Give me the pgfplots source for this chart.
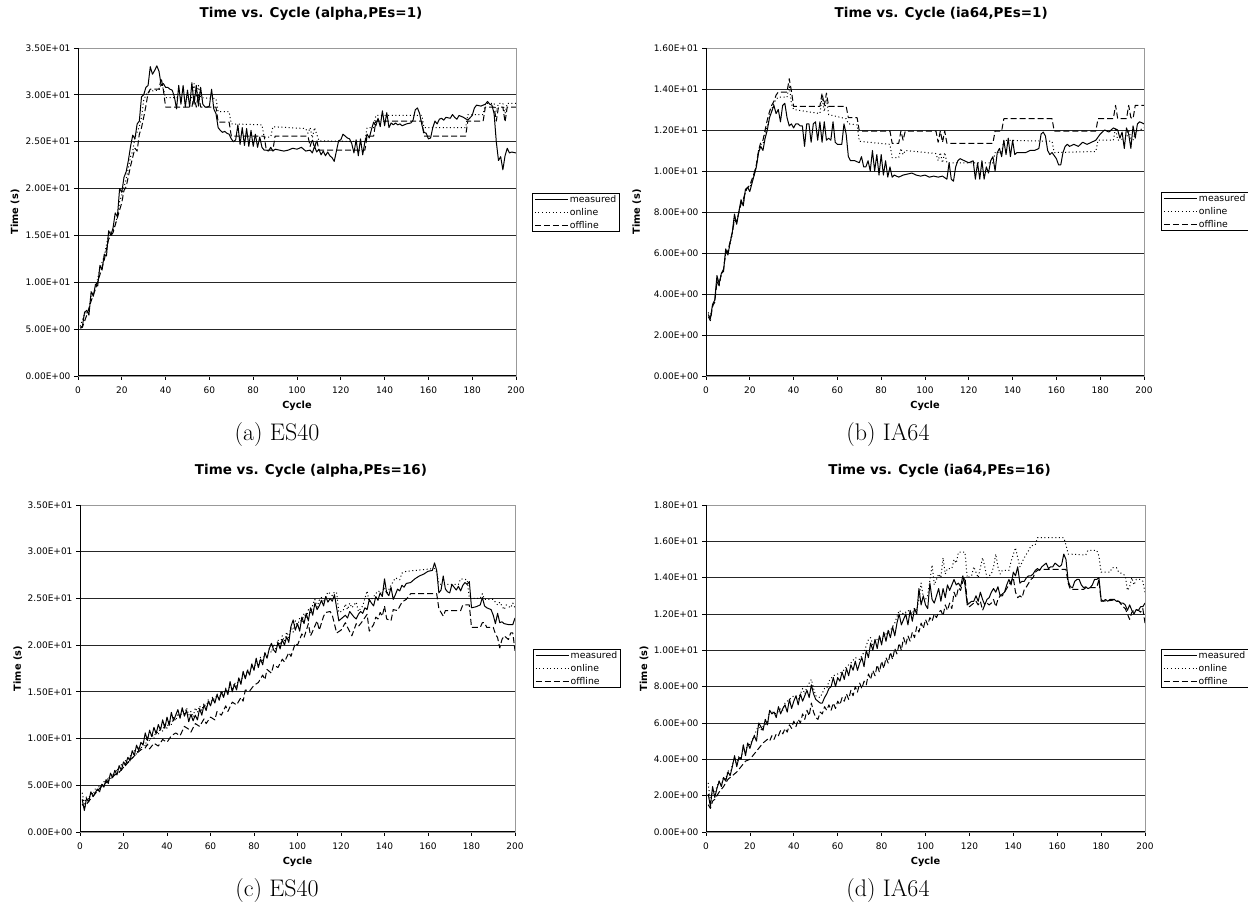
\documentclass[border=0pt]{standalone}
\usepackage{fontspec}
\usepackage{pgfplots}
\pgfplotsset{compat=1.18}
\newfontfamily\chartfont{DejaVu Sans}
\pgfplotsset{
  excelchart/.style={
    scale only axis,
    xmin=0, xmax=200,
    xtick={0,20,...,200},
    xticklabels={0,20,40,60,80,100,120,140,160,180,200},
    tick align=outside,
    xtick pos=bottom, ytick pos=left,
    major tick length=4pt,
    tick style={black, line width=0.8pt},
    ymajorgrids,
    major grid style={black!85, line width=0.9pt},
    axis line style={draw=gray!80, line width=0.8pt},
    ticklabel style={font=\chartfont\fontsize{9}{10}\selectfont},
    xticklabel style={yshift=-3pt},
    label style={font=\chartfont\bfseries\fontsize{9.8}{11}\selectfont},
    title style={font=\chartfont\bfseries\fontsize{13.5}{15}\selectfont, anchor=center},
    xlabel={Cycle},
    ylabel={Time (s)},
    xlabel style={at={(axis description cs:0.5,-0.0915)}, anchor=center},
    legend style={draw=black, line width=0.8pt, fill=white,
      font=\chartfont\fontsize{9.3}{10}\selectfont, anchor=north west,
      inner xsep=2pt, inner ysep=0.5pt, row sep=1.3pt,
      nodes={inner sep=1.5pt}},
    legend cell align=left,
    legend image code/.code={\draw[#1] (0pt,0pt) -- (33pt,0pt);},
    every axis plot/.append style={line width=1pt, black, line join=round},
    after end axis/.code={
      \draw[gray!80, line width=0.8pt] (rel axis cs:0,1) -- (rel axis cs:1,1) -- (rel axis cs:1,0);
      \draw[black, line width=1pt] (rel axis cs:0,1) -- (rel axis cs:0,0) -- (rel axis cs:1,0);
    },
    /pgf/number format/assume math mode=true,
  },
  meas/.style={solid},
  onl/.style={dash pattern=on 1pt off 2.6pt},
  offl/.style={dash pattern=on 6pt off 3pt},
}
\begin{document}
\begin{tikzpicture}[x=1pt,y=1pt]
\useasboundingbox (0,0) rectangle (1248,909);

% ---------------- (a) ----------------
\begin{axis}[excelchart, at={(78pt,533pt)}, anchor=south west,
  width=438pt, height=328pt, ymin=0, ymax=35,
  ytick={0,5,...,35},
  yticklabels={0.00E+00,5.00E+00,1.00E+01,1.50E+01,2.00E+01,2.50E+01,3.00E+01,3.50E+01},
  title={Time vs. Cycle (alpha,PEs=1)},
  title style={at={(axis description cs:0.532,1)}, yshift=28pt},
  ylabel style={at={(axis description cs:-0.144,0.5)}, anchor=center},
  legend style={at={(axis description cs:1.0365,0.558)}}]
\addplot[meas] coordinates {
(1,5.2)(2,5.3)(3,6.8)(4,7.0)(5,6.5)(6,9.0)(7,8.5)(8,9.8)(9,9.6)(10,11.8)(11,11.3)(12,13.0)(13,12.8)(14,15.5)(15,15.0)(16,15.8)(17,17.4)(18,17.0)(19,20.0)(20,19.6)(21,21.2)(22,21.8)(23,23.0)(24,24.5)(25,25.7)(26,25.3)(27,26.9)(28,27.2)(29,29.8)(30,30.0)(31,30.8)(32,31.0)(33,33.0)(34,32.2)(35,32.6)(36,33.1)(37,32.5)(38,31.0)(39,31.2)(40,30.8)(41,30.8)(42,30.6)(43,30.5)(44,29.8)(45,28.5)(46,31.0)(47,29.0)(48,31.0)(49,28.7)(50,30.5)(51,28.7)(52,31.3)(53,29.0)(54,31.0)(55,28.8)(56,30.8)(57,29.0)(58,28.7)(59,28.7)(60,28.8)(61,30.6)(62,28.5)(63,28.0)(64,26.5)(65,26.2)(66,26.0)(67,26.1)(68,25.9)(69,25.8)(70,25.3)(71,25.0)(72,25.2)(73,26.8)(74,24.7)(75,26.5)(76,24.6)(77,26.4)(78,24.5)(79,26.2)(80,24.5)(81,25.8)(82,24.4)(83,25.5)(84,24.4)(85,24.1)(86,24.1)(87,24.0)(88,24.4)(89,24.0)(90,24.2)(92,24.1)(94,24.0)(96,24.1)(98,24.3)(100,24.2)(102,24.4)(104,24.0)(106,24.1)(107,23.8)(108,24.5)(109,23.9)(110,24.2)(111,23.6)(112,24.0)(113,23.5)(114,23.9)(115,23.5)(116,23.3)(117,22.9)(118,24.0)(119,25.1)(120,25.2)(121,25.8)(122,25.6)(123,25.4)(124,25.3)(125,24.8)(126,23.8)(127,25.2)(128,23.5)(129,25.3)(130,23.6)(131,25.0)(132,25.8)(133,25.4)(134,26.3)(135,27.1)(136,26.7)(137,27.5)(138,26.6)(139,28.3)(140,26.7)(141,28.1)(142,26.5)(143,27.0)(144,26.8)(145,27.0)(146,26.8)(147,26.9)(148,26.7)(150,26.9)(152,27.0)(153,27.3)(154,28.4)(155,28.6)(156,28.0)(157,26.8)(158,26.0)(159,25.9)(160,25.3)(161,25.4)(162,26.5)(163,27.2)(164,26.9)(165,27.4)(166,27.5)(167,27.3)(168,27.6)(170,27.5)(171,27.9)(172,27.6)(173,27.4)(174,27.8)(176,27.6)(178,27.3)(180,27.8)(181,28.6)(182,28.9)(184,28.8)(186,29.0)(187,29.3)(188,29.0)(189,28.9)(190,28.0)(191,25.0)(192,23.0)(193,23.4)(194,22.0)(195,23.5)(196,24.3)(197,23.8)(198,23.9)(200,23.8)};
\addlegendentry{measured}
\addplot[onl] coordinates {
(1,5.3)(3,6.6)(5,7.0)(6,8.6)(8,9.3)(10,11.5)(12,12.8)(14,15.2)(16,15.5)(18,17.0)(19,18.6)(20,19.3)(22,21.0)(24,23.4)(25,24.0)(26,25.5)(28,26.6)(29,27.6)(30,29.4)(31,30.0)(32,30.2)(33,30.4)(37,30.5)(38,31.2)(39,30.6)(40,29.7)(52,29.7)(53,31.2)(54,29.8)(55,31.0)(56,29.7)(63,29.6)(64,28.2)(69,28.2)(70,26.9)(84,26.8)(85,25.5)(88,25.5)(89,26.6)(104,26.4)(105,25.9)(106,26.5)(107,25.4)(108,26.5)(109,25.8)(110,25.1)(131,25.0)(132,26.5)(135,26.5)(136,27.8)(157,27.8)(158,26.5)(177,26.5)(178,27.9)(185,27.9)(186,29.1)(190,29.1)(191,28.2)(192,29.1)(194,29.1)(195,28.0)(196,29.1)(200,29.1)};
\addlegendentry{online}
\addplot[offl] coordinates {
(1,5.1)(2,5.2)(4,6.5)(6,8.0)(8,9.3)(10,10.8)(12,12.4)(14,14.6)(16,15.3)(18,16.9)(20,18.5)(21,19.8)(22,20.2)(24,22.4)(26,24.3)(27,24.0)(28,25.8)(29,26.5)(30,27.6)(31,28.8)(32,30.2)(33,30.6)(37,30.6)(38,31.8)(39,30.5)(40,28.7)(52,28.7)(53,29.9)(54,28.7)(55,30.1)(56,28.7)(63,28.7)(64,27.1)(69,27.1)(70,25.6)(85,25.6)(86,24.1)(89,24.1)(90,25.6)(105,25.6)(106,24.5)(107,25.3)(108,24.3)(109,25.2)(110,24.1)(131,24.1)(132,25.6)(135,25.6)(136,27.2)(157,27.2)(158,25.6)(177,25.6)(178,27.2)(185,27.2)(186,28.7)(190,28.7)(191,27.2)(192,28.7)(194,28.7)(195,27.1)(196,28.7)(200,28.7)};
\addlegendentry{offline}
\end{axis}

% ---------------- (b) ----------------
\begin{axis}[excelchart, at={(706pt,533pt)}, anchor=south west,
  width=438pt, height=328pt, ymin=0, ymax=16,
  ytick={0,2,...,16},
  yticklabels={0.00E+00,2.00E+00,4.00E+00,6.00E+00,8.00E+00,1.00E+01,1.20E+01,1.40E+01,1.60E+01},
  title={Time vs. Cycle (ia64,PEs=1)},
  title style={at={(axis description cs:0.537,1)}, yshift=28pt},
  ylabel style={at={(axis description cs:-0.158,0.5)}, anchor=center},
  legend style={at={(axis description cs:1.039,0.561)}}]
\addplot[meas] coordinates {
(1,3.0)(2,2.8)(3,3.5)(4,3.7)(5,4.9)(6,4.5)(7,5.0)(8,5.1)(9,6.2)(10,5.9)(11,6.5)(12,7.0)(13,7.9)(14,7.4)(15,8.0)(16,8.6)(17,8.3)(18,9.1)(19,9.2)(20,9.0)(21,9.4)(22,9.8)(23,10.2)(24,10.9)(25,11.2)(26,11.0)(27,11.6)(28,12.0)(29,12.6)(30,12.9)(31,13.2)(32,12.8)(33,13.0)(34,12.4)(35,13.2)(36,13.3)(37,12.6)(38,12.2)(39,12.3)(40,12.1)(41,12.3)(42,12.3)(43,12.2)(44,12.2)(45,11.2)(46,12.3)(47,12.3)(48,11.4)(49,12.3)(50,12.4)(51,11.5)(52,12.4)(53,11.4)(54,12.4)(55,11.5)(56,11.6)(57,11.5)(58,12.4)(59,11.4)(60,11.3)(61,11.3)(62,11.3)(63,12.3)(64,11.8)(65,10.7)(66,10.5)(68,10.5)(70,10.4)(71,10.7)(72,10.2)(73,10.2)(74,10.5)(75,10.0)(76,11.0)(77,10.0)(78,10.8)(79,9.8)(80,10.8)(81,9.8)(82,10.5)(83,9.7)(84,10.2)(85,9.7)(86,9.8)(88,9.7)(90,9.8)(92,9.85)(94,9.9)(96,9.8)(98,9.75)(100,9.8)(102,9.7)(104,9.75)(106,9.7)(108,9.75)(110,9.6)(111,10.4)(112,9.6)(113,9.5)(114,10.2)(115,10.5)(116,10.6)(118,10.5)(120,10.4)(122,10.5)(123,9.6)(124,10.4)(125,9.6)(126,10.5)(127,9.6)(128,10.2)(129,9.9)(130,10.5)(131,10.7)(132,10.0)(133,10.9)(134,11.1)(135,10.7)(136,11.5)(137,10.8)(138,11.6)(139,10.7)(140,11.5)(141,10.8)(142,10.9)(144,10.9)(146,10.9)(148,11.0)(150,11.0)(152,11.1)(153,11.8)(154,11.9)(155,11.7)(156,11.0)(157,10.8)(158,10.9)(160,10.6)(161,10.3)(162,10.3)(163,10.9)(164,11.2)(165,11.3)(166,11.2)(168,11.3)(170,11.2)(172,11.4)(174,11.3)(176,11.4)(178,11.5)(180,11.8)(182,12.0)(184,11.9)(186,12.1)(188,12.0)(189,11.6)(190,11.9)(191,11.1)(192,12.1)(193,11.8)(194,11.1)(195,12.2)(196,11.6)(197,12.3)(198,12.4)(200,12.3)};
\addlegendentry{measured}
\addplot[onl] coordinates {
(1,3.1)(2,2.9)(3,3.4)(4,3.7)(5,4.7)(6,4.5)(7,5.0)(8,5.2)(9,6.0)(10,6.0)(12,6.9)(13,7.7)(14,7.5)(15,8.0)(16,8.5)(17,8.4)(18,9.0)(19,9.2)(20,9.2)(22,9.8)(23,10.3)(24,11.0)(25,11.3)(26,11.3)(27,11.8)(28,12.2)(29,12.7)(30,13.0)(31,13.3)(32,13.5)(33,13.6)(37,13.6)(38,14.2)(39,13.3)(40,13.0)(52,12.8)(53,13.6)(54,12.9)(55,13.5)(56,12.75)(64,12.55)(65,12.3)(69,12.25)(70,11.45)(84,11.3)(85,10.65)(88,10.65)(89,11.1)(90,10.8)(91,11.0)(105,10.85)(106,10.5)(107,10.9)(108,10.4)(109,10.9)(110,10.4)(131,10.4)(132,10.9)(135,10.9)(136,11.5)(158,11.45)(159,10.9)(178,10.95)(179,11.5)(186,11.5)(187,12.1)(188,11.5)(192,11.6)(193,12.0)(194,11.6)(195,11.5)(196,11.9)(200,12.1)};
\addlegendentry{online}
\addplot[offl] coordinates {
(1,2.9)(2,2.7)(3,3.4)(4,3.6)(5,4.6)(6,4.4)(7,5.0)(8,5.2)(9,6.0)(10,6.1)(12,7.0)(13,7.6)(14,7.5)(15,8.0)(16,8.4)(17,8.6)(18,9.0)(19,9.2)(20,9.3)(22,9.9)(23,10.3)(24,11.0)(25,11.4)(26,11.5)(27,12.0)(28,12.5)(29,12.9)(30,13.2)(31,13.4)(32,13.7)(33,13.85)(37,13.85)(38,14.5)(39,13.9)(40,13.15)(52,13.15)(53,13.8)(54,13.2)(55,13.8)(56,13.15)(64,13.15)(65,12.6)(69,12.6)(70,11.95)(84,11.95)(85,11.35)(88,11.35)(89,11.95)(90,11.5)(91,11.95)(105,11.95)(106,11.4)(107,11.95)(108,11.4)(109,11.95)(110,11.35)(131,11.35)(132,11.95)(135,11.95)(136,12.55)(158,12.55)(159,11.95)(178,11.95)(179,12.55)(186,12.55)(187,13.2)(188,12.55)(192,12.55)(193,13.2)(194,12.6)(195,12.55)(196,13.2)(200,13.2)};
\addlegendentry{offline}
\end{axis}

% ---------------- (c) ----------------
\begin{axis}[excelchart, at={(80pt,77pt)}, anchor=south west,
  width=435pt, height=327pt, ymin=0, ymax=35,
  ytick={0,5,...,35},
  yticklabels={0.00E+00,5.00E+00,1.00E+01,1.50E+01,2.00E+01,2.50E+01,3.00E+01,3.50E+01},
  title={Time vs. Cycle (alpha,PEs=16)},
  title style={at={(axis description cs:0.531,1)}, yshift=28pt},
  ylabel style={at={(axis description cs:-0.143,0.5)}, anchor=center},
  legend style={at={(axis description cs:1.041,0.56)}}]
\addplot[meas] coordinates {
(1,3.5)(2,2.3)(3,3.6)(4,3.2)(5,4.3)(6,3.8)(8,4.6)(9,4.3)(10,5.1)(11,4.8)(12,5.6)(13,5.2)(14,6.3)(15,5.8)(16,6.6)(17,6.1)(18,7.1)(19,6.6)(20,7.5)(21,7.2)(22,8.0)(23,7.6)(24,8.7)(25,8.2)(26,9.3)(27,8.7)(28,9.6)(29,9.3)(30,10.6)(31,9.8)(32,10.9)(33,10.2)(34,11.2)(35,10.5)(36,11.5)(37,10.9)(38,12.0)(39,11.1)(40,12.3)(41,11.4)(42,12.8)(43,11.9)(44,12.5)(45,13.1)(46,12.2)(47,13.3)(48,12.4)(49,13.0)(50,11.8)(51,12.6)(52,11.9)(53,12.5)(54,12.0)(55,13.2)(56,12.5)(57,13.6)(58,13.0)(59,14.0)(60,13.5)(61,14.3)(62,13.8)(63,14.7)(64,14.1)(65,15.0)(66,14.4)(67,15.3)(68,14.7)(69,16.1)(70,15.0)(71,15.8)(72,15.2)(73,16.5)(74,15.8)(75,17.2)(76,16.4)(77,17.3)(78,16.8)(79,18.0)(80,17.3)(81,18.6)(82,17.6)(83,18.5)(84,17.9)(85,19.2)(86,18.6)(87,19.6)(88,20.2)(89,19.5)(90,19.2)(91,20.3)(92,19.6)(93,20.6)(94,20.0)(95,20.9)(96,20.3)(97,22.0)(98,22.7)(99,21.6)(100,22.3)(101,21.5)(102,23.0)(103,22.3)(104,23.4)(105,22.6)(106,24.0)(107,23.2)(108,24.5)(109,23.8)(110,24.2)(111,24.8)(112,24.2)(113,25.2)(114,24.6)(115,25.0)(116,24.7)(117,25.4)(118,24.0)(119,22.6)(120,22.8)(121,23.0)(122,23.2)(123,22.9)(124,23.6)(125,23.3)(126,23.0)(127,22.8)(128,23.3)(129,23.6)(130,23.4)(131,24.0)(132,23.8)(133,24.9)(134,24.5)(135,24.2)(136,25.2)(137,24.8)(138,25.6)(139,25.2)(140,27.1)(141,25.6)(142,25.3)(143,26.2)(144,24.9)(145,25.4)(146,26.0)(147,25.8)(148,26.4)(149,26.2)(150,26.6)(152,26.7)(154,27.1)(156,27.4)(158,27.6)(160,27.9)(162,28.0)(163,28.8)(164,28.0)(165,25.6)(166,25.9)(167,27.4)(168,26.0)(169,25.7)(170,25.6)(171,26.5)(172,26.2)(173,25.9)(174,26.3)(175,25.8)(176,26.4)(177,26.7)(178,26.5)(179,26.8)(180,24.0)(182,24.1)(184,24.3)(185,25.1)(186,24.2)(187,24.0)(188,23.9)(189,23.8)(190,23.2)(191,22.3)(192,23.4)(193,22.4)(194,22.5)(195,22.3)(197,22.2)(199,22.2)(200,22.9)};
\addlegendentry{measured}
\addplot[onl] coordinates {
(1,4.2)(2,3.0)(3,3.8)(4,3.5)(5,4.3)(6,4.0)(7,4.6)(8,4.4)(9,5.0)(10,4.8)(11,5.4)(12,5.2)(13,5.9)(14,5.6)(15,6.3)(16,6.0)(17,6.8)(18,6.4)(19,7.2)(20,6.9)(21,7.7)(22,7.3)(23,8.2)(24,7.9)(25,8.7)(26,8.3)(27,9.1)(28,8.8)(29,9.7)(30,9.2)(31,10.2)(32,9.7)(33,10.5)(34,10.0)(35,10.9)(36,10.4)(37,11.2)(38,10.8)(39,11.7)(40,11.1)(41,12.0)(42,11.5)(43,12.3)(44,11.9)(45,12.7)(46,12.2)(47,13.1)(48,12.6)(49,13.3)(50,12.5)(51,12.9)(52,12.3)(53,13.3)(54,12.8)(55,13.5)(56,13.0)(57,13.8)(58,13.3)(59,14.2)(60,13.6)(61,14.5)(62,14.0)(63,14.8)(64,14.3)(65,15.1)(66,14.6)(67,15.4)(68,14.9)(69,15.8)(70,15.2)(71,16.0)(72,15.6)(73,16.5)(74,16.0)(75,16.9)(76,16.5)(77,17.4)(78,16.9)(79,17.8)(80,17.4)(81,18.3)(82,17.8)(83,18.7)(84,18.2)(85,19.1)(86,18.6)(87,19.6)(88,19.2)(89,20.1)(90,19.6)(91,20.6)(92,20.0)(93,21.0)(94,20.4)(95,21.4)(96,20.8)(97,22.0)(98,21.4)(99,22.6)(100,22.0)(101,22.9)(102,22.4)(103,23.4)(104,22.9)(105,23.8)(106,23.3)(107,24.3)(108,24.9)(109,24.1)(110,24.8)(111,25.1)(112,24.6)(114,25.7)(116,25.3)(117,25.7)(118,25.6)(119,23.5)(121,23.7)(122,24.4)(123,23.8)(124,24.5)(125,24.0)(127,24.6)(128,23.6)(130,24.2)(132,25.8)(133,24.6)(135,25.2)(137,25.8)(139,25.6)(140,26.2)(141,25.5)(143,26.4)(145,27.2)(147,27.0)(148,27.7)(150,27.9)(163,28.2)(164,27.8)(165,26.6)(166,26.5)(174,26.5)(175,27.1)(178,27.0)(179,25.0)(184,25.0)(185,25.5)(186,24.9)(190,24.9)(192,24.3)(193,24.6)(195,23.8)(196,24.3)(198,24.0)(199,24.5)(200,24.0)};
\addlegendentry{online}
\addplot[offl] coordinates {
(1,3.0)(2,2.6)(4,3.3)(6,3.8)(8,4.4)(10,4.9)(12,5.3)(14,5.7)(16,6.1)(18,6.4)(20,6.9)(22,7.4)(24,7.9)(26,8.4)(28,8.8)(30,9.0)(31,9.4)(32,8.9)(34,9.5)(36,9.2)(38,9.9)(40,9.6)(42,10.3)(44,10.6)(46,10.3)(48,11.3)(50,11.0)(51,10.7)(53,11.6)(55,11.3)(57,12.1)(58,11.6)(60,12.3)(62,12.0)(63,12.9)(65,12.5)(67,13.5)(68,12.9)(70,13.9)(72,13.6)(74,14.4)(75,14.0)(76,15.2)(78,15.1)(80,15.7)(82,16.0)(84,16.8)(85,16.3)(86,17.4)(88,17.0)(89,17.9)(91,17.6)(93,18.5)(94,18.2)(96,19.2)(97,18.8)(99,20.2)(100,20.0)(102,21.2)(103,20.8)(105,22.3)(106,21.0)(107,21.5)(109,22.6)(110,21.6)(112,23.1)(113,23.5)(115,23.6)(116,23.2)(118,21.3)(120,21.6)(122,22.4)(123,21.9)(125,21.0)(127,22.3)(128,22.0)(130,22.6)(132,23.3)(133,21.5)(135,22.2)(136,23.0)(137,22.8)(138,23.5)(139,23.1)(140,24.2)(141,22.8)(143,22.6)(144,23.8)(146,23.7)(148,24.6)(150,24.9)(152,25.5)(164,25.5)(165,23.9)(167,23.1)(168,23.7)(175,23.7)(176,24.3)(179,24.3)(180,21.9)(184,21.9)(185,22.4)(186,22.4)(187,21.9)(190,21.9)(191,21.2)(192,20.8)(193,19.7)(194,20.6)(195,21.0)(197,20.6)(198,21.3)(199,21.3)(200,19.4)};
\addlegendentry{offline}
\end{axis}

% ---------------- (d) ----------------
\begin{axis}[excelchart, at={(706pt,77pt)}, anchor=south west,
  width=439pt, height=327pt, ymin=0, ymax=18,
  ytick={0,2,...,18},
  yticklabels={0.00E+00,2.00E+00,4.00E+00,6.00E+00,8.00E+00,1.00E+01,1.20E+01,1.40E+01,1.60E+01,1.80E+01},
  title={Time vs. Cycle (ia64,PEs=16)},
  title style={at={(axis description cs:0.532,1)}, yshift=28pt},
  ylabel style={at={(axis description cs:-0.141,0.5)}, anchor=center},
  legend style={at={(axis description cs:1.036,0.56)}}]
\addplot[meas] coordinates {
(1,2.1)(2,1.4)(3,2.5)(4,1.9)(5,2.4)(6,2.8)(7,2.5)(8,3.0)(9,2.8)(10,3.3)(11,3.1)(12,3.6)(13,4.2)(14,3.6)(15,4.1)(16,4.0)(17,4.8)(18,4.2)(19,4.9)(20,4.6)(21,5.0)(22,5.3)(23,5.0)(24,6.0)(25,5.8)(26,5.6)(27,6.2)(28,5.9)(29,6.7)(30,6.5)(31,6.6)(32,6.3)(33,6.9)(34,6.5)(35,6.8)(36,7.0)(37,6.6)(38,7.3)(39,6.8)(40,7.2)(41,7.5)(42,7.0)(43,7.6)(44,7.2)(45,7.5)(46,7.8)(47,7.4)(48,8.1)(49,7.6)(50,7.3)(51,7.2)(52,7.1)(53,7.1)(54,7.4)(55,7.6)(56,7.9)(57,8.0)(58,8.5)(59,8.0)(60,8.5)(61,8.3)(62,8.8)(63,8.4)(64,9.0)(65,8.6)(66,9.2)(67,8.9)(68,9.4)(69,8.9)(70,9.3)(71,9.6)(72,9.1)(73,10.0)(74,9.6)(75,10.4)(76,10.0)(77,10.6)(78,10.1)(79,10.8)(80,10.3)(81,11.0)(82,10.5)(83,11.1)(84,10.7)(85,11.3)(86,10.8)(87,11.5)(88,12.0)(89,11.4)(90,11.7)(91,12.0)(92,11.4)(93,12.2)(94,11.6)(95,12.3)(96,12.0)(97,13.4)(98,12.5)(99,13.0)(100,12.5)(101,12.3)(102,13.7)(103,12.8)(104,12.6)(105,13.0)(106,13.4)(107,12.7)(108,13.4)(109,12.9)(110,13.6)(111,13.3)(112,13.6)(113,13.9)(114,13.6)(115,13.7)(116,13.5)(117,14.1)(118,13.6)(119,12.5)(120,12.6)(121,12.7)(122,12.7)(123,13.0)(124,12.7)(125,13.2)(126,12.8)(127,12.5)(128,12.8)(129,12.9)(130,13.2)(131,13.4)(132,13.2)(133,13.5)(134,13.0)(135,13.1)(136,13.2)(137,13.6)(138,13.9)(139,13.6)(140,14.3)(141,14.1)(142,14.6)(143,13.7)(144,13.8)(145,13.8)(146,14.0)(147,14.1)(148,14.1)(149,14.2)(150,14.4)(151,14.5)(152,14.4)(153,14.6)(154,14.7)(155,14.8)(156,14.5)(157,14.6)(158,14.6)(159,14.8)(160,14.7)(161,14.6)(162,14.7)(163,15.3)(164,15.0)(165,13.8)(166,13.5)(167,13.45)(168,13.8)(169,13.9)(170,13.9)(171,13.6)(172,13.45)(173,13.5)(174,13.4)(175,13.45)(176,13.6)(177,13.9)(178,13.9)(179,14.0)(180,12.8)(181,12.7)(182,12.8)(183,12.7)(184,12.8)(185,12.8)(186,12.8)(187,12.7)(188,12.7)(189,12.6)(190,12.6)(191,12.5)(192,12.2)(193,12.5)(194,12.2)(195,12.0)(196,12.25)(197,12.2)(198,12.4)(199,12.4)(200,12.6)};
\addlegendentry{measured}
\addplot[onl] coordinates {
(1,2.7)(2,1.6)(3,2.3)(4,2.2)(5,2.5)(6,2.8)(7,2.6)(8,3.0)(9,2.9)(10,3.4)(11,3.2)(12,3.7)(13,4.1)(14,3.7)(15,4.2)(16,4.0)(17,4.7)(18,4.3)(19,4.9)(20,4.8)(22,5.3)(24,5.9)(25,5.6)(26,5.8)(28,6.0)(29,6.7)(30,6.6)(32,6.5)(34,6.8)(35,6.7)(36,7.1)(38,7.3)(40,7.5)(42,7.3)(44,7.9)(45,7.6)(46,8.0)(48,8.4)(49,7.9)(50,7.5)(52,7.4)(54,7.9)(55,7.9)(56,8.3)(58,8.6)(60,8.7)(62,8.8)(64,9.1)(66,9.3)(68,9.6)(70,9.5)(72,9.9)(74,10.6)(75,10.7)(76,10.3)(78,10.6)(80,10.7)(82,10.9)(84,11.1)(86,11.5)(88,12.2)(90,12.0)(92,12.2)(94,12.0)(95,12.35)(96,12.2)(97,12.8)(98,13.7)(99,12.9)(100,12.8)(101,13.0)(103,14.7)(104,13.6)(105,13.9)(106,14.2)(107,14.0)(108,15.1)(109,14.2)(110,14.5)(112,14.5)(113,15.0)(114,14.8)(115,15.4)(118,15.4)(119,14.0)(121,14.1)(122,14.6)(124,14.0)(126,15.1)(127,14.6)(128,14.0)(130,14.2)(131,14.6)(132,15.3)(133,14.6)(134,14.2)(135,14.4)(138,14.4)(139,14.9)(141,15.65)(142,15.1)(143,14.6)(145,15.1)(147,15.5)(148,15.75)(150,15.8)(151,16.2)(163,16.2)(164,15.8)(165,15.3)(173,15.25)(174,15.5)(178,15.5)(179,15.2)(180,14.3)(184,14.3)(185,14.55)(187,14.55)(188,14.3)(190,14.2)(191,14.1)(192,13.3)(193,13.5)(194,14.0)(195,13.6)(196,13.9)(198,13.9)(199,13.8)(200,13.2)};
\addlegendentry{online}
\addplot[offl] coordinates {
(1,1.5)(2,1.3)(3,1.7)(4,1.8)(5,2.0)(6,2.2)(8,2.5)(10,2.9)(12,3.1)(14,3.3)(16,3.6)(18,3.9)(20,4.0)(22,4.3)(24,4.6)(26,4.9)(28,5.1)(29,5.0)(30,5.3)(31,5.1)(32,5.4)(33,5.3)(34,5.6)(35,5.4)(36,5.7)(37,5.5)(38,5.9)(39,5.7)(40,6.1)(41,5.8)(42,6.2)(43,6.0)(44,6.5)(45,6.2)(46,6.7)(47,6.4)(48,7.1)(49,6.6)(50,6.3)(51,6.2)(52,6.6)(53,6.5)(54,6.9)(55,6.7)(56,7.0)(57,6.7)(58,7.1)(59,6.8)(60,7.2)(61,7.0)(62,7.4)(63,7.2)(64,7.6)(65,7.3)(66,7.8)(67,7.5)(68,8.0)(69,7.7)(70,8.2)(71,7.9)(72,8.3)(73,8.1)(74,8.7)(75,8.4)(76,8.9)(77,8.6)(78,9.2)(79,8.8)(80,9.4)(81,9.0)(82,9.6)(83,9.3)(84,9.9)(85,9.5)(86,10.1)(87,9.8)(88,10.4)(89,10.0)(90,10.7)(91,10.3)(92,10.8)(93,10.5)(94,11.0)(95,10.7)(96,11.3)(97,11.0)(98,11.5)(99,11.2)(100,11.7)(101,11.4)(102,11.8)(103,11.6)(104,12.0)(105,11.8)(106,12.1)(107,12.2)(108,11.9)(109,12.5)(110,12.2)(111,12.6)(112,12.3)(113,13.2)(114,12.9)(115,13.45)(116,13.3)(117,13.8)(118,14.0)(119,12.7)(120,12.4)(121,12.5)(122,12.6)(123,12.7)(124,12.5)(125,12.7)(126,12.2)(127,12.5)(128,12.6)(129,12.5)(130,12.6)(131,12.8)(132,12.4)(133,12.8)(134,13.0)(135,13.0)(136,13.2)(137,13.4)(138,13.6)(139,13.8)(140,14.0)(141,13.2)(142,12.9)(143,13.0)(144,12.9)(145,13.35)(146,13.5)(147,13.7)(148,13.9)(149,14.0)(150,14.3)(151,14.4)(152,14.45)(164,14.45)(165,13.7)(166,13.35)(172,13.35)(173,13.45)(178,13.45)(179,13.9)(180,12.7)(185,12.75)(186,12.8)(188,12.7)(190,12.4)(191,12.3)(192,12.0)(193,11.7)(194,12.1)(195,12.2)(197,12.2)(198,12.1)(199,12.3)(200,11.5)};
\addlegendentry{offline}
\end{axis}

% captions
\node[font=\fontsize{24}{28}\selectfont, anchor=base] at (277,468) {(a) ES40};
\node[font=\fontsize{24}{28}\selectfont, anchor=base] at (888,468) {(b) IA64};
\node[font=\fontsize{24}{28}\selectfont, anchor=base] at (277,12) {(c) ES40};
\node[font=\fontsize{24}{28}\selectfont, anchor=base] at (888,12) {(d) IA64};
\end{tikzpicture}
\end{document}
